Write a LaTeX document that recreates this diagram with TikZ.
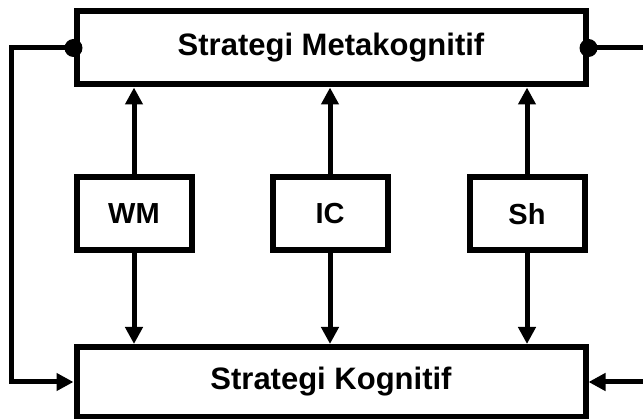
\documentclass[tikz,border=0pt]{standalone}
\usepackage{fontspec}
\setmainfont{Liberation Sans}
\usetikzlibrary{arrows.meta}
\begin{document}
\begin{tikzpicture}[>={Triangle[length=17pt,width=17pt]}, x=1pt, y=-1pt, line width=5pt,
    bigbox/.style={draw, line width=6pt, inner sep=0pt, minimum width=509pt, minimum height=73pt,
        font=\fontsize{31}{31}\selectfont\bfseries},
    smallbox/.style={draw, line width=6pt, inner sep=0pt, minimum width=115pt, minimum height=73pt,
        font=\fontsize{29}{29}\selectfont\bfseries}]
  \useasboundingbox (0,0) rectangle (643,419);

  \node[bigbox] (meta) at (331,48) {Strategi Metakognitif};
  \node[bigbox, minimum height=70pt] (kog) at (331,382) {Strategi Kognitif};

  \node[smallbox] (wm) at (134,214) {WM};
  \node[smallbox] (ic) at (330,214) {IC};
  \node[smallbox] (sh) at (527,214) {Sh};

\foreach \b in {wm,ic,sh}
{
    \draw[->] (\b.north) -- (\b.north |- meta.south);
    \draw[->] (\b.south) -- (\b.south |- kog.north);
}

  % feedback loops
  \coordinate (lft) at (11,0);
  \coordinate (rgt) at (646,0);
  \draw[->] (meta.west) -- (meta.west -| lft) -- (kog.west -| lft) -- (kog.west);
  \draw (meta.east) -- (meta.east -| rgt);
  \draw[->] (kog.east -| rgt) -- (kog.east);

\foreach \p in {meta.west,meta.east}
{
    \fill (\p) circle (9pt);
}
\end{tikzpicture}
\end{document}
